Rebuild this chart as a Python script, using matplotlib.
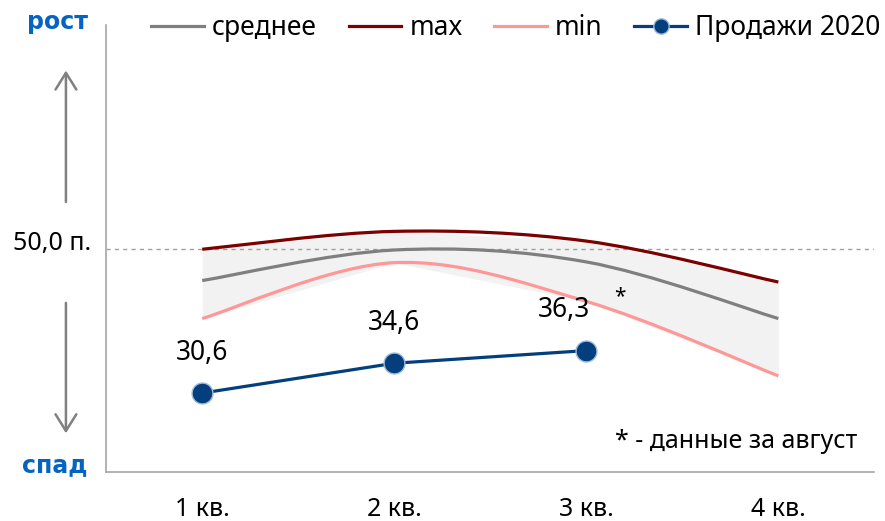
import numpy as np
import matplotlib
matplotlib.use("Agg")
import matplotlib.pyplot as plt
from matplotlib.path import Path
from matplotlib.patches import PathPatch, FancyArrowPatch
from matplotlib.lines import Line2D

plt.rcParams['font.family'] = ['Noto Sans', 'DejaVu Sans']

# data
quarters = ['1 кв.', '2 кв.', '3 кв.', '4 кв.']
avg_vals = [45.7, 49.8, 48.2, 40.6]
max_vals = [49.9, 52.3, 51.0, 45.5]
min_vals = [40.6, 48.1, 42.9, 32.9]
sales_2020 = [30.6, 34.6, 36.3]
sales_labels = ['30,6', '34,6', '36,3']

c_avg = '#7f7f7f'
c_max = '#7b0000'
c_min = '#ff9797'
c_sales = '#033f7c'
c_blue = '#0563c1'


def smooth_path(xs, ys):
    # cubic bezier through the points (like Excel's smoothed line)
    pts = np.column_stack([xs, ys]).astype(float)
    n = len(pts)
    verts = [pts[0]]
    codes = [Path.MOVETO]
    for i in range(n - 1):
        p0 = pts[max(i - 1, 0)]
        p1 = pts[i]
        p2 = pts[i + 1]
        p3 = pts[min(i + 2, n - 1)]
        verts += [p1 + (p2 - p0) / 6, p2 - (p3 - p1) / 6, p2]
        codes += [Path.CURVE4] * 3
    return Path(verts, codes)


fig = plt.figure(figsize=(8.85, 5.21), dpi=100)
ax = fig.add_axes([0.12, 0.094, 0.868, 0.858])

x = np.arange(1, 5)
ax.fill_between(x, min_vals, max_vals, color='#f2f2f2', lw=0, zorder=1)
ax.axhline(50, color='#a0a0a0', ls=(0, (3, 3)), lw=1, zorder=2)

for vals, col in [(max_vals, c_max), (avg_vals, c_avg), (min_vals, c_min)]:
    ax.add_patch(PathPatch(smooth_path(x, vals), fill=False, edgecolor=col,
                           lw=2.3, zorder=3, capstyle='butt'))

xs = np.arange(1, len(sales_2020) + 1)
ax.plot(xs, sales_2020, color=c_sales, lw=2.3, marker='o', ms=15,
        mfc=c_sales, mec='#9fb8d6', mew=1, zorder=5)
offsets = [(0, 19), (0, 19), (-16, 19)]
for xi, v, lab, off in zip(xs, sales_2020, sales_labels, offsets):
    ax.annotate(lab, (xi, v), xytext=off, textcoords='offset points',
                ha='center', va='bottom', fontsize=19)
ax.annotate('*', (3, sales_2020[2]), xytext=(24, 31), textcoords='offset points',
            ha='center', va='bottom', fontsize=15)

ax.set_xlim(0.5, 4.5)
ax.set_ylim(20, 80)
ax.set_xticks(x)
ax.set_xticklabels(quarters, fontsize=18)
ax.set_yticks([])
ax.tick_params(axis='x', length=0, pad=18)
for s in ['top', 'right']:
    ax.spines[s].set_visible(False)
for s in ['left', 'bottom']:
    ax.spines[s].set_color('#a6a6a6')
    ax.spines[s].set_linewidth(1.2)

ax.text(0.978, 0.04, '* - данные за август', transform=ax.transAxes,
        ha='right', va='bottom', fontsize=18)

# left side annotations
fig.text(0.065, 0.957, 'рост', color=c_blue, fontsize=17, fontweight='bold',
         family='DejaVu Sans', ha='center', va='center')
fig.text(0.062, 0.108, 'спад', color=c_blue, fontsize=17, fontweight='bold',
         family='DejaVu Sans', ha='center', va='center')
fig.text(0.059, 0.533, '50,0 п.', fontsize=18, ha='center', va='center')
fig.add_artist(FancyArrowPatch(
    (0.0745, 0.607), (0.0745, 0.870), transform=fig.transFigure,
    arrowstyle='->,head_length=8,head_width=5', color='#808080', lw=1.8,
    mutation_scale=1.5))
fig.add_artist(FancyArrowPatch(
    (0.0745, 0.424), (0.0745, 0.163), transform=fig.transFigure,
    arrowstyle='->,head_length=8,head_width=5', color='#808080', lw=1.8,
    mutation_scale=1.5))

handles = [
    Line2D([], [], color=c_avg, lw=2.3),
    Line2D([], [], color=c_max, lw=2.3),
    Line2D([], [], color=c_min, lw=2.3),
    Line2D([], [], color=c_sales, lw=2.3, marker='o', ms=11, mec='#9fb8d6'),
]
fig.legend(handles, ['среднее', 'max', 'min', 'Продажи 2020'], ncol=4,
           loc='center', bbox_to_anchor=(0.583, 0.946), frameon=False,
           fontsize=19, handlelength=2.0, handletextpad=0.3, columnspacing=1.2)

fig.savefig('out.png', dpi=100)
